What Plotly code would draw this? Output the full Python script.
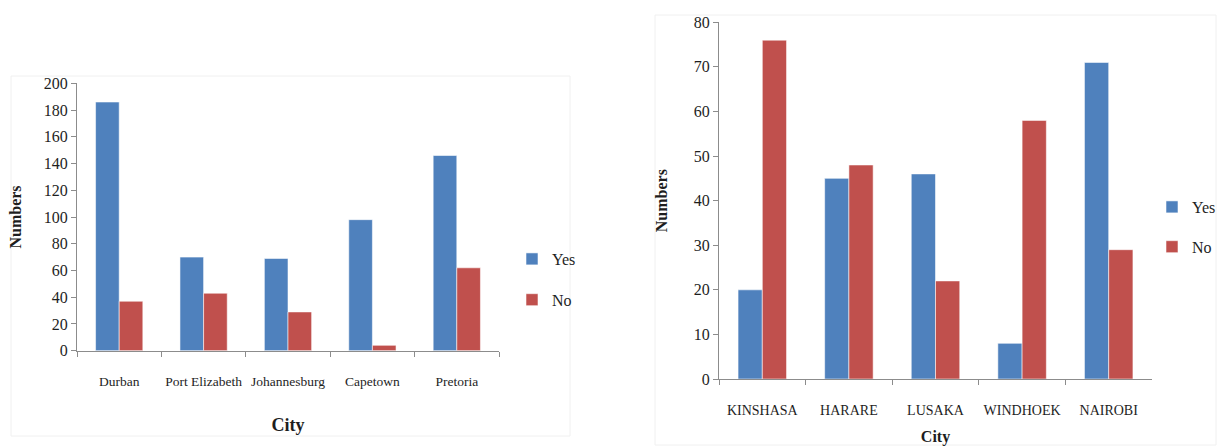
import plotly.graph_objects as go

# Survey responses by city: South Africa (left) and other African capitals (right)
sa_cities = ["Durban", "Port Elizabeth", "Johannesburg", "Capetown", "Pretoria"]
sa_yes = [186, 70, 69, 98, 146]
sa_no = [37, 43, 29, 4, 62]

af_cities = ["KINSHASA", "HARARE", "LUSAKA", "WINDHOEK", "NAIROBI"]
af_yes = [20, 45, 46, 8, 71]
af_no = [76, 48, 22, 58, 29]

sa_ticks = list(range(0, 201, 20))
af_ticks = list(range(0, 81, 10))

BLUE = "#4f81bd"
RED = "#c0504d"
AXIS = "#8c8c8c"
TEXT = "#1e1e1e"
SERIF = "Liberation Serif"
W, H = 1223, 446

fig = go.Figure()

bar_line = dict(color="rgba(255,255,255,0.55)", width=1)

fig.add_trace(go.Bar(x=sa_cities, y=sa_yes, name="Yes", marker=dict(color=BLUE, line=bar_line),
                     xaxis="x", yaxis="y", legend="legend", legendgroup="sa_yes"))
fig.add_trace(go.Bar(x=sa_cities, y=sa_no, name="No", marker=dict(color=RED, line=bar_line),
                     xaxis="x", yaxis="y", legend="legend", legendgroup="sa_no"))
fig.add_trace(go.Bar(x=af_cities, y=af_yes, name="Yes", marker=dict(color=BLUE, line=bar_line),
                     xaxis="x2", yaxis="y2", legend="legend2", legendgroup="af_yes"))
fig.add_trace(go.Bar(x=af_cities, y=af_no, name="No", marker=dict(color=RED, line=bar_line),
                     xaxis="x2", yaxis="y2", legend="legend2", legendgroup="af_no"))


def px_x(p):
    return p / W


def px_y(p):
    return 1 - p / H


xaxis_common = dict(
    showline=True, linecolor=AXIS, linewidth=1,
    ticks="outside", tickcolor=AXIS, ticklen=5, tickson="boundaries",
    showgrid=False, zeroline=False, fixedrange=True, automargin=False, tickangle=0,
)
yaxis_common = dict(
    showline=True, linecolor=AXIS, linewidth=1,
    ticks="outside", tickcolor=AXIS, ticklen=5,
    showgrid=False, zeroline=False, fixedrange=True, automargin=False,
)

fig.update_layout(
    width=W, height=H,
    margin=dict(l=0, r=0, t=0, b=0, autoexpand=False),
    paper_bgcolor="white", plot_bgcolor="white",
    barmode="group", bargap=0.44, bargroupgap=0,
    font=dict(family=SERIF, color=TEXT),
    xaxis=dict(
        **xaxis_common,
        domain=[px_x(77), px_x(499)], anchor="y",
        tickfont=dict(family=SERIF, size=13.5, color=TEXT),
        ticklabelstandoff=18,
        title=dict(text="<b>City</b>", font=dict(family=SERIF, size=18, color=TEXT), standoff=30),
    ),
    yaxis=dict(
        **yaxis_common,
        domain=[px_y(350.7), px_y(83.3)], anchor="x",
        range=[0, 200], tickvals=sa_ticks,
        tickfont=dict(family=SERIF, size=16, color=TEXT),
        title=dict(text="<b>Numbers</b>", font=dict(family=SERIF, size=16, color=TEXT), standoff=18),
    ),
    xaxis2=dict(
        **xaxis_common,
        domain=[px_x(719), px_x(1152)], anchor="y2",
        tickfont=dict(family=SERIF, size=14, color=TEXT),
        ticklabelstandoff=18,
        title=dict(text="<b>City</b>", font=dict(family=SERIF, size=16, color=TEXT), standoff=14),
    ),
    yaxis2=dict(
        **yaxis_common,
        domain=[px_y(379), px_y(22.3)], anchor="x2",
        range=[0, 80], tickvals=af_ticks,
        tickfont=dict(family=SERIF, size=16, color=TEXT),
        title=dict(text="<b>Numbers</b>", font=dict(family=SERIF, size=16, color=TEXT), standoff=22),
    ),
    legend=dict(
        x=px_x(512), y=px_y(242), xanchor="left", yanchor="top",
        font=dict(family=SERIF, size=16, color=TEXT),
        bgcolor="rgba(0,0,0,0)", tracegroupgap=17, itemwidth=30,
    ),
    legend2=dict(
        x=px_x(1152), y=px_y(190), xanchor="left", yanchor="top",
        font=dict(family=SERIF, size=16, color=TEXT),
        bgcolor="rgba(0,0,0,0)", tracegroupgap=16, itemwidth=30,
    ),
    shapes=[
        dict(type="rect", xref="paper", yref="paper",
             x0=px_x(11), x1=px_x(570), y0=px_y(436), y1=px_y(76),
             line=dict(color="#f0f0f0", width=1), fillcolor="rgba(0,0,0,0)", layer="below"),
        dict(type="rect", xref="paper", yref="paper",
             x0=px_x(655), x1=px_x(1216), y0=px_y(445), y1=px_y(15),
             line=dict(color="#f0f0f0", width=1), fillcolor="rgba(0,0,0,0)", layer="below"),
    ],
)

fig.write_html("out.html")
